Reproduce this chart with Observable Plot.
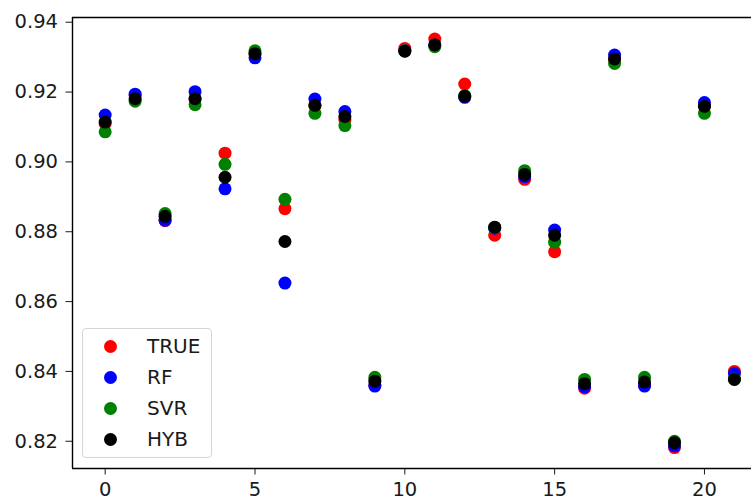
<!DOCTYPE html>
<html><head><meta charset="utf-8">
<script src="https://cdn.jsdelivr.net/npm/d3@7"></script>
<script src="https://cdn.jsdelivr.net/npm/@observablehq/plot@0.6"></script>
<style>
body{margin:0;background:#fff;}
#wrap{position:relative;width:751px;height:500px;font-family:"DejaVu Sans",sans-serif;overflow:hidden;}
#legendBox{position:absolute;left:82px;top:328px;width:130px;height:130px;box-sizing:border-box;border:1px solid #d5d5d5;border-radius:4px;background:rgba(255,255,255,0.8);}
.lg-dot{position:absolute;width:13px;height:13px;border-radius:50%;}
.lg-txt{position:absolute;font-size:20px;line-height:24px;color:#1a1a1a;white-space:nowrap;}
</style>
</head><body>
<div id="wrap"><div id="chart"></div></div>
<script>
// categories (sample index)
const idx = [0,1,2,3,4,5,6,7,8,9,10,11,12,13,14,15,16,17,18,19,20,21];
// series values
const TRUE_ = [0.911,0.919,0.8832,0.918,0.9025,0.931,0.8866,0.916,0.912,0.836,0.9325,0.9352,0.9223,0.879,0.895,0.8743,0.8352,0.9295,0.836,0.8182,0.916,0.840];
const RF    = [0.9134,0.9194,0.8833,0.9201,0.8923,0.9298,0.8653,0.918,0.9144,0.8358,0.9318,0.9335,0.9185,0.881,0.8958,0.8805,0.8356,0.9306,0.8358,0.8187,0.917,0.8394];
const SVR   = [0.9086,0.9174,0.8852,0.9164,0.8993,0.9318,0.8893,0.9139,0.9104,0.8383,0.9318,0.933,0.919,0.8812,0.8975,0.877,0.8377,0.9282,0.8383,0.820,0.9139,0.8378];
const HYB   = [0.9114,0.9181,0.8844,0.9181,0.8956,0.931,0.8772,0.9162,0.913,0.8372,0.9317,0.9335,0.9188,0.8813,0.8964,0.879,0.8365,0.9295,0.837,0.8196,0.9159,0.8377];
const seriesNames = ["TRUE","RF","SVR","HYB"];
const seriesColors = ["red","blue","green","black"];
// tick labels
const xTicks = [0,5,10,15,20];
const yTicks = [0.82,0.84,0.86,0.88,0.90,0.92,0.94];
const xDomain = [-1.09, 21.57];
const yDomain = [0.8122, 0.94135];

const allSeries = [TRUE_, RF, SVR, HYB];
const data = [];
allSeries.forEach((vals, s) => vals.forEach((v, i) => data.push({x: idx[i], y: v, series: seriesNames[s]})));

const chart = Plot.plot({
  width: 751, height: 500,
  marginLeft: 72, marginRight: 0, marginTop: 17, marginBottom: 32,
  style: {fontFamily: "DejaVu Sans", fontSize: "19.5px", color: "#1a1a1a", background: "white"},
  x: {domain: xDomain, ticks: xTicks, tickFormat: d => String(d), tickSize: 6.5, tickPadding: 7, label: null},
  y: {domain: yDomain, ticks: yTicks, tickFormat: d3.format(".2f"), tickSize: 6.5, tickPadding: 8, label: null},
  color: {domain: seriesNames, range: seriesColors},
  marks: [
    Plot.dot(data, {x: "x", y: "y", fill: "series", r: 6.5, stroke: "none"}),
    Plot.ruleX([xDomain[0]], {stroke: "black", strokeWidth: 1.4}),
    Plot.ruleY(yDomain, {stroke: "black", strokeWidth: 1.4})
  ]
});
document.getElementById("chart").appendChild(chart);

// legend (matplotlib-style, inside axes lower-left)
const wrap = document.getElementById("wrap");
const box = document.createElement("div");
box.id = "legendBox";
wrap.appendChild(box);
seriesNames.forEach((name, i) => {
  const cy = 346 + 31 * i;
  const dot = document.createElement("div");
  dot.className = "lg-dot";
  dot.style.left = (110.7 - 6.5) + "px";
  dot.style.top = (cy - 6.5) + "px";
  dot.style.background = seriesColors[i];
  wrap.appendChild(dot);
  const t = document.createElement("div");
  t.className = "lg-txt";
  t.textContent = name;
  t.style.left = "147px";
  t.style.top = (cy - 12) + "px";
  wrap.appendChild(t);
});
</script>
</body></html>
